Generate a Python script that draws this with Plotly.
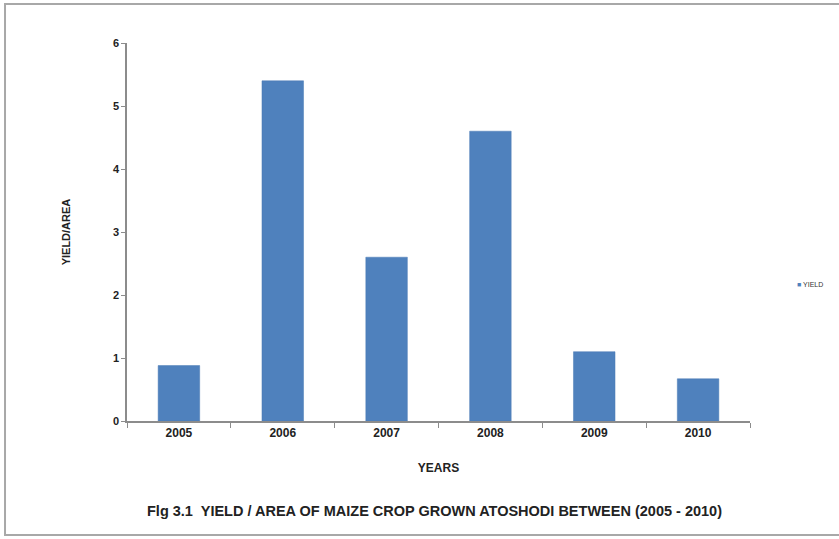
import plotly.graph_objects as go

years = ["2005", "2006", "2007", "2008", "2009", "2010"]
yield_per_area = [0.88, 5.4, 2.6, 4.6, 1.1, 0.67]
y_ticks = [0, 1, 2, 3, 4, 5, 6]

BAR = "#4f81bd"
AXIS = "#8c8c8c"
FONT = "Liberation Sans Narrow, Arial Narrow, Liberation Sans, Arial"

fig = go.Figure()
fig.add_trace(go.Bar(
    x=years, y=yield_per_area, name="YIELD", showlegend=False,
    marker=dict(color=BAR, line=dict(color="#4a7ab4", width=0.5)),
))

fig.update_layout(
    width=839, height=539,
    margin=dict(l=127, r=89, t=43, b=118, autoexpand=False),
    paper_bgcolor="white", plot_bgcolor="white",
    bargap=0.6,
    font=dict(family=FONT, color="#222222"),
    showlegend=False,
    xaxis=dict(
        type="category", tickson="boundaries",
        showline=True, linecolor=AXIS, linewidth=1.5,
        ticks="outside", ticklen=5, tickcolor=AXIS,
        tickfont=dict(size=12, family=FONT, weight="bold", color="#222"),
        title=dict(text="<b>YEARS</b>", font=dict(size=12, family=FONT), standoff=24),
        showgrid=False,
    ),
    yaxis=dict(
        range=[0, 6], tickvals=y_ticks,
        showline=True, linecolor=AXIS, linewidth=1.5,
        ticks="outside", ticklen=4, tickcolor=AXIS,
        tickfont=dict(size=11, family=FONT, weight="bold", color="#222"),
        title=dict(text="<b>YIELD/AREA</b>", font=dict(size=11, family=FONT), standoff=40),
        showgrid=False, zeroline=False,
    ),
)

# Compact legend key: small blue square followed by the series name
fig.add_annotation(
    text=f"<span style='color:{BAR}'>■</span> YIELD",
    xref="paper", yref="paper", x=1.073, y=0.36,
    xanchor="left", yanchor="middle", showarrow=False,
    font=dict(size=7, family=FONT, color="#333333"),
)

# Figure caption below the chart
fig.add_annotation(
    text="<b>Flg 3.1  YIELD / AREA OF MAIZE CROP GROWN ATOSHODI BETWEEN (2005 - 2010)</b>",
    xref="paper", yref="paper", x=0.493, y=-0.238,
    xanchor="center", yanchor="middle", showarrow=False,
    font=dict(size=14.5, family=FONT, color="#222222"),
)

# Outer frame around the whole chart
fig.add_shape(
    type="rect", xref="paper", yref="paper",
    x0=-0.1958, x1=1.16, y0=-0.3016, y1=1.103,
    line=dict(color="#a8a8a8", width=2), fillcolor="rgba(0,0,0,0)",
)

fig.write_html("out.html")
